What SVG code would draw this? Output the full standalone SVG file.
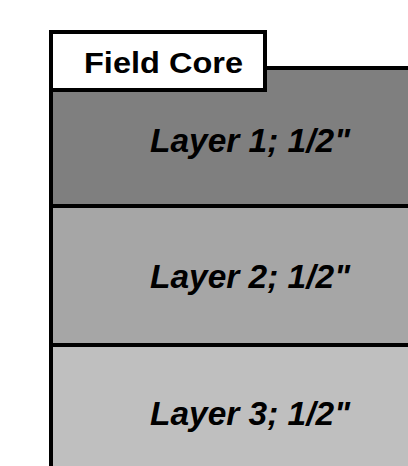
<svg xmlns="http://www.w3.org/2000/svg" width="408" height="466" viewBox="0 0 408 466">
  <style>
    .layer-text { font-family: "Liberation Sans", Arial, sans-serif; font-weight: bold; font-style: italic; font-size: 33px; fill: #000; }
    .title-text { font-family: "Liberation Sans", Arial, sans-serif; font-weight: bold; font-size: 29px; fill: #000; }
    .sep { stroke: #000; stroke-width: 4; }
  </style>
  <rect width="408" height="466" fill="#fff"/>
  <g id="layer1">
    <rect x="51" y="68" width="400" height="138" fill="#7F7F7F"/>
    <text class="layer-text" x="150" y="152" textLength="200" lengthAdjust="spacingAndGlyphs">Layer 1; 1/2"</text>
  </g>
  <g id="layer2">
    <rect x="51" y="206" width="400" height="139" fill="#A6A6A6"/>
    <text class="layer-text" x="150" y="288" textLength="200" lengthAdjust="spacingAndGlyphs">Layer 2; 1/2"</text>
  </g>
  <g id="layer3">
    <rect x="51" y="345" width="400" height="140" fill="#BFBFBF"/>
    <text class="layer-text" x="150" y="425" textLength="200" lengthAdjust="spacingAndGlyphs">Layer 3; 1/2"</text>
  </g>
  <g id="borders">
    <line class="sep" x1="51" y1="68" x2="420" y2="68"/>
    <line class="sep" x1="51" y1="66" x2="51" y2="480"/>
    <line class="sep" x1="51" y1="206" x2="420" y2="206"/>
    <line class="sep" x1="51" y1="345" x2="420" y2="345"/>
  </g>
  <g id="label">
    <rect x="51" y="32" width="214" height="58" fill="#fff" stroke="#000" stroke-width="4"/>
    <text class="title-text" x="84" y="73" textLength="159" lengthAdjust="spacingAndGlyphs">Field Core</text>
  </g>
</svg>
